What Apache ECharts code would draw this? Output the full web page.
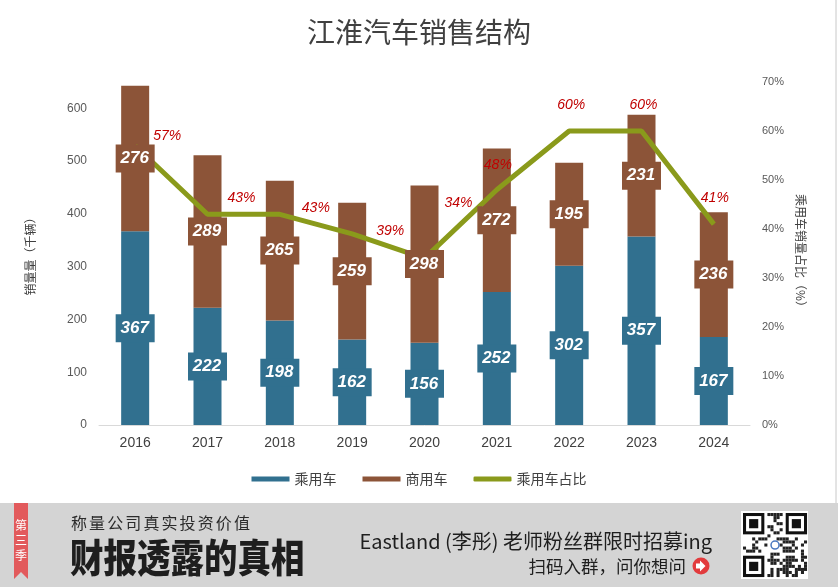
<!DOCTYPE html>
<html>
<head>
<meta charset="utf-8">
<script src="https://cdn.jsdelivr.net/npm/echarts@6/dist/echarts.min.js"></script>
<style>
html,body{margin:0;padding:0;background:#fff;}
#main{width:838px;height:587px;}
</style>
</head>
<body>
<div id="main"></div>
<script>
// ---- data ----
var years = ['2016','2017','2018','2019','2020','2021','2022','2023','2024'];
var passenger = [367, 222, 198, 162, 156, 252, 302, 357, 167];
var commercial = [276, 289, 265, 259, 298, 272, 195, 231, 236];
var passengerShare = [57, 43, 43, 39, 34, 48, 60, 60, 41];
var leftTicks = [0, 100, 200, 300, 400, 500, 600];
var rightTicks = ['0%','10%','20%','30%','40%','50%','60%','70%'];

// ---- styling (kept apart from data) ----
var FONT = '"Noto Sans CJK SC", "Liberation Sans", sans-serif';
var LATIN = '"Liberation Sans", Arial, sans-serif';
var BLUE = '#31708f', BROWN = '#8c5438', GREEN = '#8a9a1b';
var pctLabelOffsets = [[32,-10],[34,-16],[36,-6],[38,-3],[34,-55],[1,-25],[2,-26],[2,-26],[1,-26]];

var chart = echarts.init(document.getElementById('main'), null, {renderer:'canvas'});

function boxLabel(color){
  return {
    show: true, position: 'inside',
    color: '#fff', fontStyle: 'italic', fontWeight: 'bold',
    fontFamily: LATIN, fontSize: 17,
    backgroundColor: color, padding: [5, 5, 4, 4],
    width: 30, align: 'center', height: 19, lineHeight: 19
  };
}

var lineData = passengerShare.map(function(v, i){
  return { value: v, label: { offset: pctLabelOffsets[i] } };
});

// footer graphics
var graphics = [];
graphics.push({type:'rect', shape:{x:0,y:503,width:838,height:84}, style:{fill:'#d4d4d4'}, silent:true});
graphics.push({type:'line', shape:{x1:836,y1:0,x2:836,y2:503}, style:{stroke:'#c8c8c8',lineWidth:1}});
graphics.push({type:'polygon', shape:{points:[[14,503],[28,503],[28,579],[21,572],[14,579]]}, style:{fill:'#e25a5c'}});
['第','三','季'].forEach(function(c, i){
  graphics.push({type:'text', x:21, y:525 + i*15, style:{text:c, fill:'#fff', font:'12px '+FONT, textAlign:'center', textVerticalAlign:'middle'}});
});
'称量公司真实投资价值'.split('').forEach(function(c, i){
  graphics.push({type:'text', x:79 + i*18.1, y:523, style:{text:c, fill:'#2b2b2b', font:'16px '+FONT, textAlign:'center', textVerticalAlign:'middle'}});
});
graphics.push({type:'text', x:70, y:557, scaleY:1.15, originX:0, originY:0,
  style:{text:'财报透露的真相', fill:'#1e1e1e', font:'900 33.5px '+FONT, textAlign:'left', textVerticalAlign:'middle'}});
graphics.push({type:'text', x:712, y:541, style:{text:'Eastland (李彤) 老师粉丝群限时招募ing', fill:'#1e1e1e', font:'20px '+FONT, textAlign:'right', textVerticalAlign:'middle'}});
graphics.push({type:'text', x:686, y:566, style:{text:'扫码入群，问你想问', fill:'#1e1e1e', font:'17.5px '+FONT, textAlign:'right', textVerticalAlign:'middle'}});
graphics.push({type:'circle', shape:{cx:701, cy:566, r:8.5}, style:{fill:'#e23b3d'}});
graphics.push({type:'polygon', shape:{points:[[696,563.5],[700,563.5],[700,560.5],[705.5,566],[700,571.5],[700,568.5],[696,568.5]]}, style:{fill:'#fff'}});
// QR-like decoration
graphics.push({type:'rect', shape:{x:741,y:511,width:67,height:68}, style:{fill:'#ffffff'}});
var N = 21, M = 3.05, qx = 743, qy = 513;
function finder(cx, cy){
  graphics.push({type:'rect', shape:{x:cx,y:cy,width:7*M,height:7*M}, style:{fill:'#111'}});
  graphics.push({type:'rect', shape:{x:cx+M,y:cy+M,width:5*M,height:5*M}, style:{fill:'#fff'}});
  graphics.push({type:'rect', shape:{x:cx+2*M,y:cy+2*M,width:3*M,height:3*M}, style:{fill:'#111'}});
}
for (var r = 0; r < N; r++){
  for (var c = 0; c < N; c++){
    var inF = (r < 8 && c < 8) || (r < 8 && c > N-9) || (r > N-9 && c < 8);
    if (inF) continue;
    if (r >= 9 && r <= 11 && c >= 9 && c <= 11) continue;
    var h = ((r*31 + c*17) ^ (r*c*7 + 5)) % 5;
    if (h < 2) graphics.push({type:'rect', shape:{x:qx+c*M, y:qy+r*M, width:M, height:M}, style:{fill:'#222'}});
  }
}
finder(qx, qy); finder(qx+(N-7)*M, qy); finder(qx, qy+(N-7)*M);
graphics.push({type:'circle', shape:{cx:qx+10.5*M, cy:qy+10.5*M, r:4}, style:{fill:'#fff', stroke:'#4a78c0', lineWidth:1.5}});

var option = {
  backgroundColor: '#ffffff',
  animation: false,
  title: {
    text: '江淮汽车销售结构', left: 'center', top: 13,
    textStyle: {fontFamily: FONT, fontSize: 28, fontWeight: 'normal', color: '#404040'}
  },
  legend: {
    bottom: 96, left: 'center', itemWidth: 38, itemHeight: 5, itemGap: 26,
    textStyle: {fontFamily: FONT, fontSize: 14, color: '#404040'},
    data: [
      {name:'乘用车', icon:'rect'},
      {name:'商用车', icon:'rect'},
      {name:'乘用车占比', icon:'roundRect'}
    ]
  },
  grid: {left: 99, right: 88, top: 82, bottom: 162},
  xAxis: {
    type: 'category', data: years,
    axisTick: {show: false},
    axisLine: {lineStyle: {color: '#d9d9d9', width: 1}},
    axisLabel: {color: '#404040', fontSize: 14, margin: 11, fontFamily: LATIN}
  },
  yAxis: [
    {
      type: 'value', min: 0, max: 650, interval: 100,
      name: '销量量（千辆）', nameLocation: 'middle', nameGap: 63, nameRotate: 90,
      nameTextStyle: {fontFamily: FONT, fontSize: 12, color: '#404040', fontWeight: 'normal'},
      splitLine: {show: false}, axisLine: {show: false}, axisTick: {show: false},
      axisLabel: {color: '#595959', fontSize: 12, fontFamily: LATIN, margin: 12, showMaxLabel: false,
        formatter: function(v){ return leftTicks.indexOf(v) >= 0 ? String(v) : ''; }}
    },
    {
      type: 'value', min: 0, max: 70, interval: 10, position: 'right',
      name: '乘用车销量占比（%）', nameLocation: 'middle', nameGap: 36, nameRotate: -90,
      nameTextStyle: {fontFamily: FONT, fontSize: 12, color: '#404040', fontWeight: 'normal'},
      splitLine: {show: false}, axisLine: {show: false}, axisTick: {show: false},
      axisLabel: {color: '#595959', fontSize: 11, fontFamily: LATIN, margin: 12,
        formatter: function(v){ return rightTicks[Math.round(v/10)] || ''; }}
    }
  ],
  series: [
    {
      name: '乘用车', type: 'bar', stack: 'total', barWidth: 28, data: passenger,
      itemStyle: {color: BLUE}, z: 2
    },
    {
      name: '商用车', type: 'bar', stack: 'total', barWidth: 28, data: commercial,
      itemStyle: {color: BROWN}, z: 2
    },
    {
      name: '乘用车占比', type: 'line', yAxisIndex: 1, data: lineData,
      symbol: 'circle', symbolSize: 1, showSymbol: true,
      lineStyle: {color: GREEN, width: 5}, itemStyle: {color: GREEN},
      z: 4,
      label: {
        show: true, position: 'inside', color: '#c00000', fontStyle: 'italic',
        fontFamily: LATIN, fontSize: 14,
        formatter: function(p){ return p.value + '%'; }
      }
    },
    // label-only overlays so value boxes sit above the line (as in the reference)
    {
      name: '乘用车标签', type: 'bar', stack: 'labels', barWidth: 28, barGap: '-100%', data: passenger,
      itemStyle: {color: 'rgba(0,0,0,0)'}, label: boxLabel(BLUE), z: 6, silent: true, legendHoverLink: false
    },
    {
      name: '商用车标签', type: 'bar', stack: 'labels', barWidth: 28, barGap: '-100%', data: commercial,
      itemStyle: {color: 'rgba(0,0,0,0)'}, label: boxLabel(BROWN), z: 6, silent: true, legendHoverLink: false
    }
  ],
  graphic: graphics
};
chart.setOption(option);
</script>
</body>
</html>
